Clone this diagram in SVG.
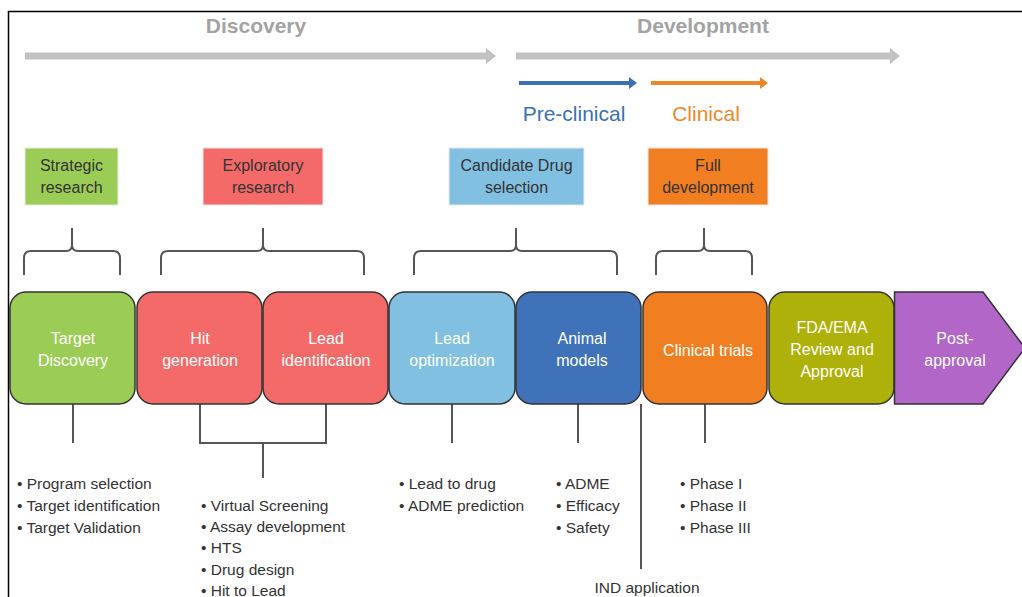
<svg xmlns="http://www.w3.org/2000/svg" width="1022" height="597" viewBox="0 0 1022 597">
<defs>
<style>
.lbl{font-family:"Liberation Sans",Arial,sans-serif;font-size:16px;fill:#fff;text-anchor:middle}
.top{font-family:"Liberation Sans",Arial,sans-serif;font-size:16px;fill:#333;text-anchor:middle}
.bul{font-family:"Liberation Sans",Arial,sans-serif;font-size:15.5px;fill:#333}
.phase{font-family:"Liberation Sans",Arial,sans-serif;font-size:21px;text-anchor:middle}
.stage{stroke:#333;stroke-width:1.5}
.tbox{stroke:#e8e8e8;stroke-width:1}
.ln{fill:none;stroke:#555;stroke-width:2}
</style>
</defs>
<rect x="0" y="0" width="1022" height="597" fill="#fff"/>
<path d="M8.5 597 V11.5 H1022" fill="none" stroke="#000" stroke-width="1.5"/>

<g id="phases">
<text class="phase" x="256" y="33" fill="#a3a3a3" font-weight="bold">Discovery</text>
<path d="M25 52.5 H486 V48 L496 56 L486 64 V59.5 H25 Z" fill="#c2c2c2"/>
<text class="phase" x="703" y="33" fill="#a3a3a3" font-weight="bold">Development</text>
<path d="M516 52.5 H890 V48 L900 56 L890 64 V59.5 H516 Z" fill="#c2c2c2"/>
<path d="M519 81 H629 V77 L637 83 L629 89 V85 H519 Z" fill="#3c6fb6"/>
<text class="phase" x="574" y="121" fill="#3c6fb6">Pre-clinical</text>
<path d="M651 81 H760 V77 L768 83 L760 89 V85 H651 Z" fill="#ef8729"/>
<text class="phase" x="706" y="121" fill="#ef8729">Clinical</text>
</g>

<g id="strategic">
<rect class="tbox" x="25" y="148" width="93" height="57" fill="#9bcc55"/>
<text class="top" x="71.5" y="171">Strategic</text>
<text class="top" x="71.5" y="193">research</text>
</g>
<g id="exploratory">
<rect class="tbox" x="203" y="148" width="120" height="57" fill="#f46a69"/>
<text class="top" x="263" y="171">Exploratory</text>
<text class="top" x="263" y="193">research</text>
</g>
<g id="candidate">
<rect class="tbox" x="449" y="148" width="135" height="57" fill="#82c0e2"/>
<text class="top" x="516.5" y="171">Candidate Drug</text>
<text class="top" x="516.5" y="193">selection</text>
</g>
<g id="full">
<rect class="tbox" x="648" y="148" width="120" height="57" fill="#f17f22"/>
<text class="top" x="708" y="171">Full</text>
<text class="top" x="708" y="193">development</text>
</g>

<g id="connectors">
<path class="ln" d="M24 275 V258 Q24 251 31 251 H66 Q72 251 72 245 V228 M72 245 Q72 251 78 251 H113 Q120 251 120 258 V275"/>
<path class="ln" d="M161 275 V258 Q161 251 168 251 H257 Q263 251 263 245 V228 M263 245 Q263 251 269 251 H357 Q364 251 364 258 V275"/>
<path class="ln" d="M414 275 V258 Q414 251 421 251 H510 Q516 251 516 245 V228 M516 245 Q516 251 522 251 H610 Q617 251 617 258 V275"/>
<path class="ln" d="M656 275 V258 Q656 251 663 251 H698 Q704 251 704 245 V228 M704 245 Q704 251 710 251 H745 Q752 251 752 258 V275"/>
<path class="ln" d="M73 404 V443"/>
<path class="ln" d="M200 404 V443 H326 V404 M263 443 V478"/>
<path class="ln" d="M452 404 V443"/>
<path class="ln" d="M578 404 V443"/>
<path class="ln" d="M641 404 V569"/>
<path class="ln" d="M705 404 V443"/>
</g>

<g id="target-discovery">
<rect class="stage" x="10" y="292" width="125" height="112" rx="16" fill="#9bcc55"/>
<text class="lbl" x="73" y="344">Target</text>
<text class="lbl" x="73" y="366">Discovery</text>
</g>
<g id="hit-generation">
<rect class="stage" x="137" y="292" width="125" height="112" rx="16" fill="#f46a69"/>
<text class="lbl" x="200" y="344">Hit</text>
<text class="lbl" x="200" y="366">generation</text>
</g>
<g id="lead-identification">
<rect class="stage" x="263" y="292" width="125" height="112" rx="16" fill="#f46a69"/>
<text class="lbl" x="326" y="344">Lead</text>
<text class="lbl" x="326" y="366">identification</text>
</g>
<g id="lead-optimization">
<rect class="stage" x="389" y="292" width="126" height="112" rx="16" fill="#82c0e2"/>
<text class="lbl" x="452" y="344">Lead</text>
<text class="lbl" x="452" y="366">optimization</text>
</g>
<g id="animal-models">
<rect class="stage" x="516" y="292" width="125" height="112" rx="16" fill="#3f72b8"/>
<text class="lbl" x="582" y="344">Animal</text>
<text class="lbl" x="582" y="366">models</text>
</g>
<g id="clinical-trials">
<rect class="stage" x="643" y="292" width="124" height="112" rx="16" fill="#f17f22"/>
<text class="lbl" x="708" y="356">Clinical trials</text>
</g>
<g id="fda-ema">
<rect class="stage" x="769" y="292" width="125" height="112" rx="16" fill="#adb10a"/>
<text class="lbl" x="832" y="333">FDA/EMA</text>
<text class="lbl" x="832" y="355">Review and</text>
<text class="lbl" x="832" y="377">Approval</text>
</g>
<g id="post-approval">
<path class="stage" d="M894.5 292 H983 L1025 348 L983 404 H894.5 Z" fill="#b266c7"/>
<text class="lbl" x="955" y="344">Post-</text>
<text class="lbl" x="955" y="366">approval</text>
</g>

<g id="lists">
<text class="bul" x="17" y="489">• Program selection</text>
<text class="bul" x="17" y="511">• Target identification</text>
<text class="bul" x="17" y="533">• Target Validation</text>
<text class="bul" x="201" y="511">• Virtual Screening</text>
<text class="bul" x="201" y="532">• Assay development</text>
<text class="bul" x="201" y="553">• HTS</text>
<text class="bul" x="201" y="575">• Drug design</text>
<text class="bul" x="201" y="596">• Hit to Lead</text>
<text class="bul" x="399" y="489">• Lead to drug</text>
<text class="bul" x="399" y="511">• ADME prediction</text>
<text class="bul" x="556" y="489">• ADME</text>
<text class="bul" x="556" y="511">• Efficacy</text>
<text class="bul" x="556" y="533">• Safety</text>
<text class="bul" x="680" y="489">• Phase I</text>
<text class="bul" x="680" y="511">• Phase II</text>
<text class="bul" x="680" y="533">• Phase III</text>
<text class="bul" x="647" y="593" text-anchor="middle">IND application</text>
</g>
</svg>
